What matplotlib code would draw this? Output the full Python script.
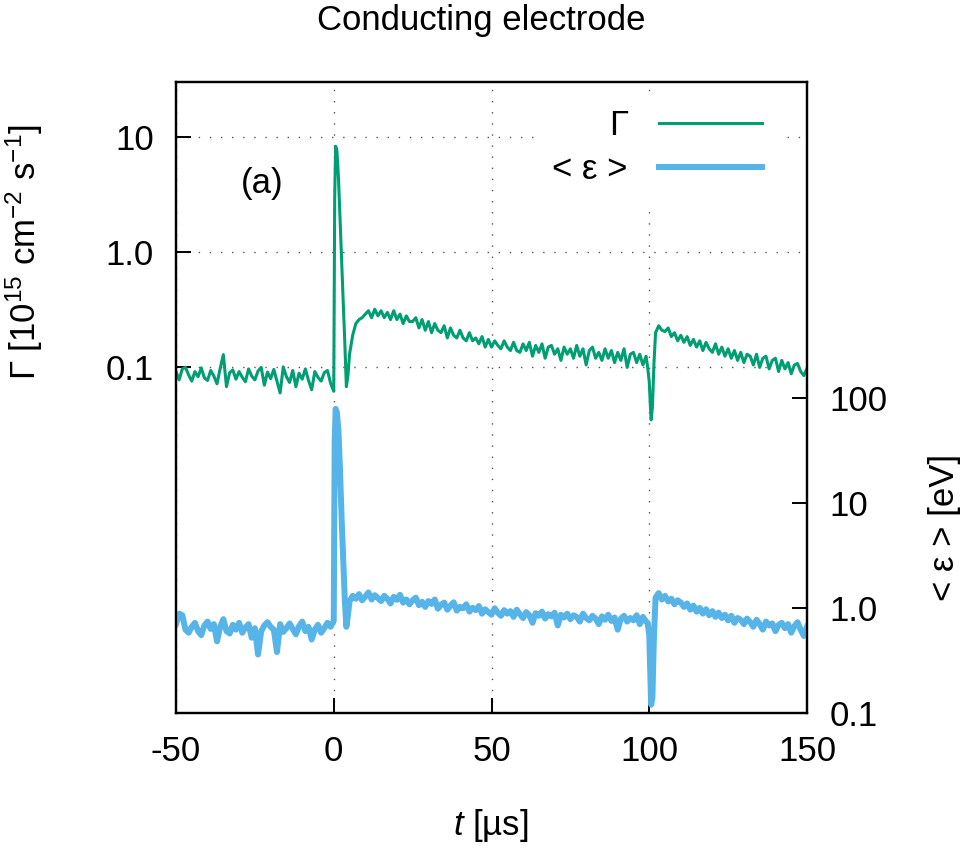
import numpy as np
import matplotlib
matplotlib.use("Agg")
import matplotlib.pyplot as plt
from matplotlib.ticker import NullLocator, FixedLocator, FixedFormatter

plt.rcParams['font.family'] = ['Liberation Sans', 'DejaVu Sans']
plt.rcParams['mathtext.fontset'] = 'custom'
plt.rcParams['mathtext.rm'] = 'Liberation Sans'
plt.rcParams['mathtext.it'] = 'Liberation Sans:italic'
plt.rcParams['axes.unicode_minus'] = False

# time axis (µs), finer around the two edges of the pulse
t_pre = np.arange(-50, 0, 1.0)
t_spike = [0.0, 0.3, 0.6, 1.0, 1.5, 2.0, 2.5, 3.0, 3.5, 4.0, 4.5]
t_mid = np.arange(5, 100, 1.0)
t_dip = [99.5, 100.0, 100.3, 100.6, 101.0, 101.5]
t_post = np.arange(102, 151, 1.0)

# flux Γ [1e15 cm-2 s-1]
gam_pre = [0.092, 0.078, 0.097, 0.100, 0.086, 0.076, 0.092, 0.083, 0.099, 0.081,
           0.077, 0.094, 0.084, 0.072, 0.098, 0.129, 0.068, 0.090, 0.095, 0.079,
           0.092, 0.082, 0.075, 0.097, 0.084, 0.078, 0.093, 0.100, 0.070, 0.091,
           0.080, 0.096, 0.076, 0.060, 0.101, 0.083, 0.074, 0.094, 0.068, 0.089,
           0.079, 0.097, 0.077, 0.064, 0.092, 0.082, 0.076, 0.090, 0.094, 0.073]
gam_spike = [0.062, 3.0, 8.3, 7.6, 4.4, 1.9, 0.85, 0.37, 0.165, 0.068, 0.085]
gam_mid = [0.13, 0.19, 0.24, 0.26, 0.27, 0.29, 0.31, 0.27, 0.32, 0.28,
           0.31, 0.27, 0.30, 0.26, 0.31, 0.26, 0.29, 0.24, 0.28, 0.25,
           0.25, 0.27, 0.22, 0.26, 0.21, 0.25, 0.20, 0.24, 0.21, 0.20,
           0.23, 0.18, 0.22, 0.19, 0.18, 0.21, 0.18, 0.17, 0.20, 0.17,
           0.18, 0.16, 0.185, 0.15, 0.175, 0.15, 0.17, 0.155, 0.145, 0.17,
           0.15, 0.14, 0.165, 0.14, 0.135, 0.16, 0.14, 0.165, 0.125, 0.155,
           0.135, 0.16, 0.12, 0.15, 0.155, 0.13, 0.145, 0.115, 0.15, 0.13,
           0.145, 0.12, 0.155, 0.125, 0.145, 0.105, 0.14, 0.15, 0.12, 0.135,
           0.115, 0.145, 0.12, 0.14, 0.11, 0.135, 0.115, 0.145, 0.10, 0.13,
           0.135, 0.11, 0.13, 0.105, 0.125]
gam_dip = [0.10, 0.075, 0.05, 0.035, 0.045, 0.11]
gam_post = [0.20, 0.23, 0.21, 0.205, 0.22, 0.185, 0.20, 0.17, 0.19, 0.165,
            0.185, 0.155, 0.175, 0.15, 0.17, 0.14, 0.165, 0.145, 0.135, 0.16,
            0.13, 0.15, 0.125, 0.145, 0.12, 0.14, 0.115, 0.135, 0.11, 0.13,
            0.125, 0.105, 0.13, 0.10, 0.12, 0.125, 0.097, 0.115, 0.12, 0.092,
            0.115, 0.097, 0.11, 0.088, 0.105, 0.108, 0.092, 0.085, 0.098]

# mean energy <ε> [eV]
eps_pre = [0.70, 0.88, 0.85, 0.62, 0.58, 0.66, 0.72, 0.60, 0.55, 0.68,
           0.74, 0.63, 0.70, 0.48, 0.66, 0.78, 0.60, 0.57, 0.69, 0.62,
           0.72, 0.58, 0.65, 0.70, 0.52, 0.64, 0.36, 0.60, 0.68, 0.73,
           0.66, 0.62, 0.38, 0.70, 0.59, 0.64, 0.71, 0.63, 0.56, 0.67,
           0.74, 0.60, 0.66, 0.50, 0.62, 0.69, 0.58, 0.64, 0.72, 0.66]
eps_spike = [0.75, 40, 78, 72, 48, 20, 7.0, 2.9, 1.2, 0.66, 0.85]
eps_mid = [1.15, 1.30, 1.22, 1.35, 1.18, 1.28, 1.40, 1.20, 1.32, 1.24,
           1.16, 1.30, 1.22, 1.10, 1.27, 1.19, 1.33, 1.12, 1.20, 1.08,
           1.18, 1.25, 1.06, 1.14, 1.02, 1.16, 1.09, 1.20, 0.98, 1.07,
           1.12, 0.96, 1.05, 1.13, 0.94, 1.02, 0.99, 1.08, 0.92, 1.00,
           0.95, 1.04, 0.88, 0.97, 0.91, 0.86, 0.99, 0.90, 0.84, 0.95,
           0.88, 0.93, 0.82, 0.96, 0.87, 0.80, 0.91, 0.85, 0.72, 0.89,
           0.84, 0.92, 0.79, 0.87, 0.83, 0.90, 0.68, 0.86, 0.81, 0.88,
           0.78, 0.85, 0.82, 0.74, 0.88, 0.80, 0.76, 0.84, 0.79, 0.70,
           0.83, 0.77, 0.86, 0.75, 0.81, 0.62, 0.79, 0.84, 0.74, 0.80,
           0.76, 0.85, 0.70, 0.82, 0.74]
eps_dip = [0.72, 0.55, 0.25, 0.12, 0.14, 0.55]
eps_post = [1.25, 1.38, 1.20, 1.30, 1.15, 1.22, 1.08, 1.18, 1.12, 1.02,
            1.10, 0.96, 1.05, 0.92, 1.00, 0.88, 0.97, 0.85, 0.93, 0.82,
            0.90, 0.80, 0.86, 0.76, 0.84, 0.72, 0.80, 0.77, 0.70, 0.79,
            0.73, 0.66, 0.77, 0.70, 0.62, 0.74, 0.68, 0.71, 0.60, 0.69,
            0.72, 0.64, 0.70, 0.58, 0.67, 0.73, 0.62, 0.54, 0.66]

t = np.concatenate([t_pre, t_spike, t_mid, t_dip, t_post])
gamma = np.concatenate([gam_pre, gam_spike, gam_mid, gam_dip, gam_post])
eps = np.concatenate([eps_pre, eps_spike, eps_mid, eps_dip, eps_post])

xticks = [-50, 0, 50, 100, 150]
y1ticks = [0.1, 1, 10]
y1labels = ['0.1', '1.0', '10']
y2ticks = [0.1, 1, 10, 100]
y2labels = ['0.1', '1.0', '10', '100']

green = '#009e73'
blue = '#56b4e9'
fs = 25

fig = plt.figure(figsize=(9.63, 8.5), dpi=100)
ax = fig.add_axes([176 / 963, 1 - 713 / 850, 631 / 963, 631 / 850])
ax2 = ax.twinx()

l1, = ax.plot(t, gamma, color=green, lw=2.2, label='Γ')
l2, = ax2.plot(t, eps, color=blue, lw=4.3, label='< ε >')

ax.set_xlim(-50, 150)
ax.set_yscale('log')
ax.set_ylim(1e-4, 30)
ax2.set_yscale('log')
ax2.set_ylim(0.1, 1e5)

ax.xaxis.set_major_locator(FixedLocator(xticks))
ax.yaxis.set_major_locator(FixedLocator(y1ticks))
ax.yaxis.set_major_formatter(FixedFormatter(y1labels))
ax.yaxis.set_minor_locator(NullLocator())
ax2.yaxis.set_major_locator(FixedLocator(y2ticks))
ax2.yaxis.set_major_formatter(FixedFormatter(y2labels))
ax2.yaxis.set_minor_locator(NullLocator())

ax.grid(True, color='#555555', lw=1.0, linestyle=(0, (1, 7)))
for a in (ax, ax2):
    for s in a.spines.values():
        s.set_linewidth(1.6)
ax.tick_params(axis='both', direction='in', length=10.5, width=1.4, labelsize=fs, pad=16)
ax.tick_params(axis='x', top=False)
ax2.tick_params(axis='y', direction='in', length=10.5, width=1.4, labelsize=fs, pad=16)

fig.text(0.5, 0.976, 'Conducting electrode', ha='center', va='center', fontsize=fs)
fig.text(0.025, 1 - 252 / 850, 'Γ [10$^{15}$ cm$^{-2}$ s$^{-1}$]', rotation=90,
         ha='center', va='center', fontsize=fs)
fig.text(0.981, 1 - 527 / 850, '< ε > [eV]', rotation=90, ha='center', va='center', fontsize=fs)
fig.text(491 / 963, 1 - 826 / 850, '$t$ [µs]', ha='center', va='center', fontsize=fs)
fig.text(262 / 963, 1 - 183 / 850, '(a)', ha='center', va='center', fontsize=fs)

leg = ax2.legend(handles=[l1, l2], loc='upper right', bbox_to_anchor=(779 / 963, 1 - 92 / 850),
                 bbox_transform=fig.transFigure, markerfirst=False, fontsize=fs,
                 handlelength=2.95, handletextpad=0.9, labelspacing=0.3, borderpad=0.5,
                 borderaxespad=0, frameon=True, fancybox=False)
leg.get_frame().set_facecolor('white')
leg.get_frame().set_edgecolor('none')
leg.get_frame().set_alpha(1)

fig.savefig('out.png', dpi=100)
